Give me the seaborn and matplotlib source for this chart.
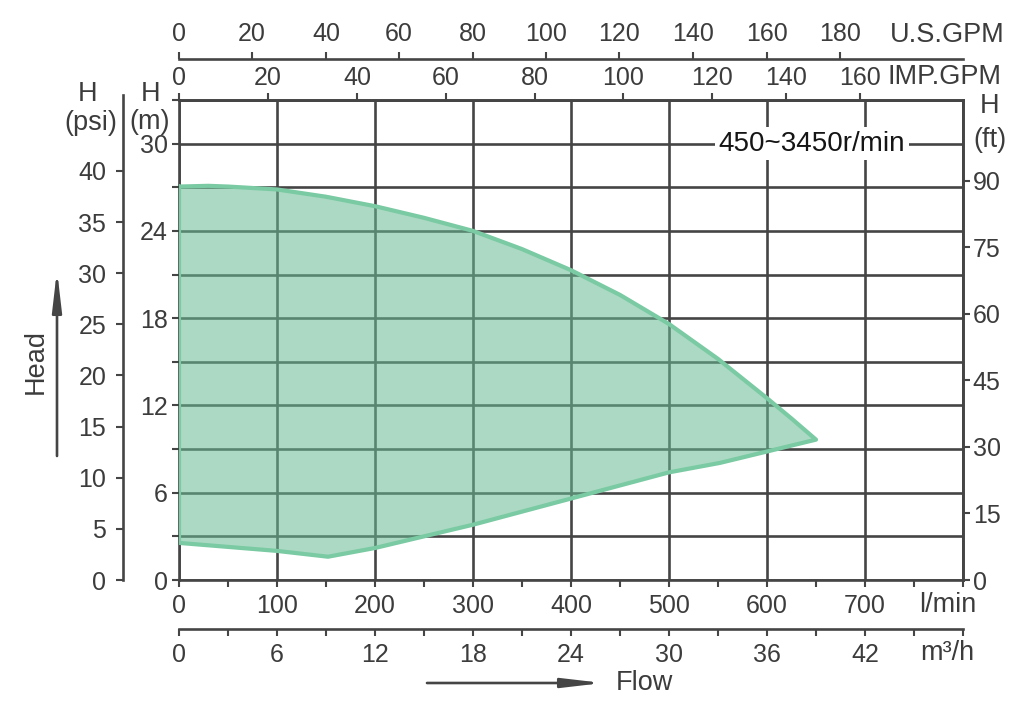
import numpy as np
import pandas as pd
import matplotlib
matplotlib.use("Agg")
import matplotlib.pyplot as plt
import seaborn as sns

# ---------------- data ----------------
# envelope of the operating range (flow in l/min, head in m)
upper_q = [0, 30, 50, 100, 150, 200, 250, 300, 350, 400, 450, 500, 550, 600, 625, 650]
upper_h = [27.05, 27.1, 27.05, 26.85, 26.35, 25.7, 24.9, 24.0, 22.75, 21.3, 19.6,
           17.6, 15.2, 12.5, 11.1, 9.65]
lower_q = [552, 500, 400, 300, 200, 152, 100, 0]
lower_h = [8.05, 7.4, 5.6, 3.8, 2.2, 1.6, 2.0, 2.55]

lmin_major = [0, 100, 200, 300, 400, 500, 600, 700, 800]
lmin_labels = ["0", "100", "200", "300", "400", "500", "600", "700", ""]
lmin_minor = [50, 150, 250, 350, 450, 550, 650, 750]

m3h_values = [0, 3, 6, 9, 12, 15, 18, 21, 24, 27, 30, 33, 36, 39, 42, 45, 48]
m3h_labels = ["0", "", "6", "", "12", "", "18", "", "24", "", "30", "", "36", "", "42", "", ""]

us_gpm_labels = ["0", "20", "40", "60", "80", "100", "120", "140", "160", "180"]
us_gpm_pos = [0, 74.5, 150, 224.5, 300, 374.5, 449, 524.5, 600, 674.5]      # l/min
imp_gpm_labels = ["0", "20", "40", "60", "80", "100", "120", "140", "160"]
imp_gpm_pos = [0, 90.8, 181.6, 272.4, 363.3, 453, 543.9, 619.4, 694.9]      # l/min

h_m_ticks = [0, 3, 6, 9, 12, 15, 18, 21, 24, 27, 30, 33]
h_m_labels = ["0", "", "6", "", "12", "", "18", "", "24", "", "30", ""]
h_psi_ticks = [0, 5, 10, 15, 20, 25, 30, 35, 40]
h_ft_ticks = [0, 15, 30, 45, 60, 75, 90]

speed_label = "450~3450r/min"

# ---------------- style ----------------
sns.set_theme(style="white")
plt.rcParams["font.family"] = ["Liberation Sans", "DejaVu Sans"]

W, H = 1027, 706
GRID = "#454545"
TXT = "#3c3c3c"
FILL = "#66BB93"
EDGE = "#7ACAA3"
TICKFS = 18
LABFS = 19.5

fig = plt.figure(figsize=(W / 100, H / 100), dpi=100)
fig.patch.set_facecolor("white")
ax = fig.add_axes([179 / W, 126 / H, 784 / W, 480 / H])
ax.set_xlim(0, 800)
ax.set_ylim(0, 33)

# envelope
env = pd.DataFrame({"q": upper_q + lower_q, "h": upper_h + lower_h})
ax.fill(env["q"], env["h"], color=FILL, alpha=0.55, lw=0, zorder=1)
closed = pd.concat([env, env.iloc[:1]], ignore_index=True)
closed["id"] = 0
sns.lineplot(data=closed, x="q", y="h", sort=False, estimator=None, units="id",
             color=EDGE, lw=3.0, ax=ax, zorder=3)
ax.set_xlabel("")
ax.set_ylabel("")

# grid and frame
ax.set_xticks(lmin_major, labels=lmin_labels)
ax.set_xticks(lmin_minor, minor=True)
ax.set_yticks(h_m_ticks, labels=h_m_labels)
ax.set_axisbelow(True)
ax.grid(True, which="major", color=GRID, lw=1.9)
ax.grid(False, which="minor")
for s in ax.spines.values():
    s.set_visible(True)
    s.set_color(GRID)
    s.set_linewidth(1.9)
ax.tick_params(axis="both", which="both", direction="out", length=5, width=1.5,
               color=GRID, labelcolor=TXT, labelsize=TICKFS, bottom=True, left=True,
               top=False, right=False)
ax.tick_params(axis="x", pad=5)
ax.tick_params(axis="y", pad=3)

# right axis: ft
axr = ax.twinx()
axr.set_ylim(0, 33 * 3.28084)
axr.set_yticks(h_ft_ticks)
axr.grid(False)
for k, s in axr.spines.items():
    s.set_visible(k == "right")
axr.spines["right"].set_color(GRID)
axr.spines["right"].set_linewidth(1.9)
axr.tick_params(axis="y", which="both", direction="out", length=5, width=1.5, color=GRID,
                labelcolor=TXT, labelsize=TICKFS, right=True, left=False, pad=2)

# far-left axis: psi
axp = ax.twinx()
axp.set_ylim(0, 33 / 0.70307)
axp.set_yticks(h_psi_ticks)
axp.grid(False)
axp.yaxis.set_ticks_position("left")
axp.yaxis.set_label_position("left")
for k, s in axp.spines.items():
    s.set_visible(k == "left")
axp.spines["left"].set_position(("outward", 56 * 0.72))
axp.spines["left"].set_color(GRID)
axp.spines["left"].set_linewidth(1.9)
axp.spines["left"].set_bounds(0, 47.4)
axp.tick_params(axis="y", which="both", direction="out", length=5, width=1.5, color=GRID,
                labelcolor=TXT, labelsize=TICKFS, left=True, right=False, pad=7)

# top: IMP.GPM
sec_imp = ax.secondary_xaxis("top")
sec_imp.set_xticks(imp_gpm_pos, labels=imp_gpm_labels)
sec_imp.tick_params(direction="out", length=5, width=1.5, color=GRID, labelcolor=TXT,
                    labelsize=TICKFS, pad=2)
sec_imp.spines["top"].set_color(GRID)
sec_imp.spines["top"].set_linewidth(1.9)

# top: U.S.GPM
sec_us = ax.secondary_xaxis(1 + 41 / 480)
sec_us.set_xticks(us_gpm_pos, labels=us_gpm_labels)
sec_us.tick_params(direction="out", length=5, width=1.5, color=GRID, labelcolor=TXT,
                   labelsize=TICKFS, pad=4)
for s in sec_us.spines.values():
    s.set_color(GRID)
    s.set_linewidth(1.9)

# bottom: m3/h
sec_m3 = ax.secondary_xaxis(-49 / 480)
sec_m3.set_xticks([v * 1000 / 60 for v in m3h_values], labels=m3h_labels)
sec_m3.tick_params(direction="out", length=5, width=1.5, color=GRID, labelcolor=TXT,
                   labelsize=TICKFS, pad=5)
for s in sec_m3.spines.values():
    s.set_color(GRID)
    s.set_linewidth(1.9)

# speed annotation
ax.text(646, 30, speed_label, ha="center", va="center", fontsize=20, color="#151515",
        zorder=6, bbox=dict(facecolor="white", edgecolor="none", pad=2.5))


def ftext(x, y, s, **kw):
    kw.setdefault("color", TXT)
    kw.setdefault("fontsize", LABFS)
    fig.text(x / W, 1 - y / H, s, **kw)


ftext(890, 35, "U.S.GPM", ha="left", va="center")
ftext(888, 77, "IMP.GPM", ha="left", va="center")
ftext(990, 106, "H", ha="center", va="center")
ftext(990, 140, "(ft)", ha="center", va="center")
ftext(88, 94, "H", ha="center", va="center")
ftext(91, 123, "(psi)", ha="center", va="center")
ftext(151, 94, "H", ha="center", va="center")
ftext(150, 122, "(m)", ha="center", va="center")
ftext(948, 605, "l/min", ha="center", va="center")
ftext(947, 653, "m³/h", ha="center", va="center")
ftext(36, 362, "Head", ha="center", va="center", rotation=90)
ftext(616, 683, "Flow", ha="left", va="center")

arrow = dict(arrowstyle="-|>,head_length=1.2,head_width=0.14", mutation_scale=20,
             lw=1.9, color=GRID, shrinkA=0, shrinkB=0)
fig.add_artist(matplotlib.patches.FancyArrowPatch((57, H - 456), (57, H - 270),
               transform=None, **arrow))
fig.add_artist(matplotlib.patches.FancyArrowPatch((427, H - 683), (603, H - 683),
               transform=None, **arrow))

fig.savefig("out.png", dpi=100, facecolor="white")
